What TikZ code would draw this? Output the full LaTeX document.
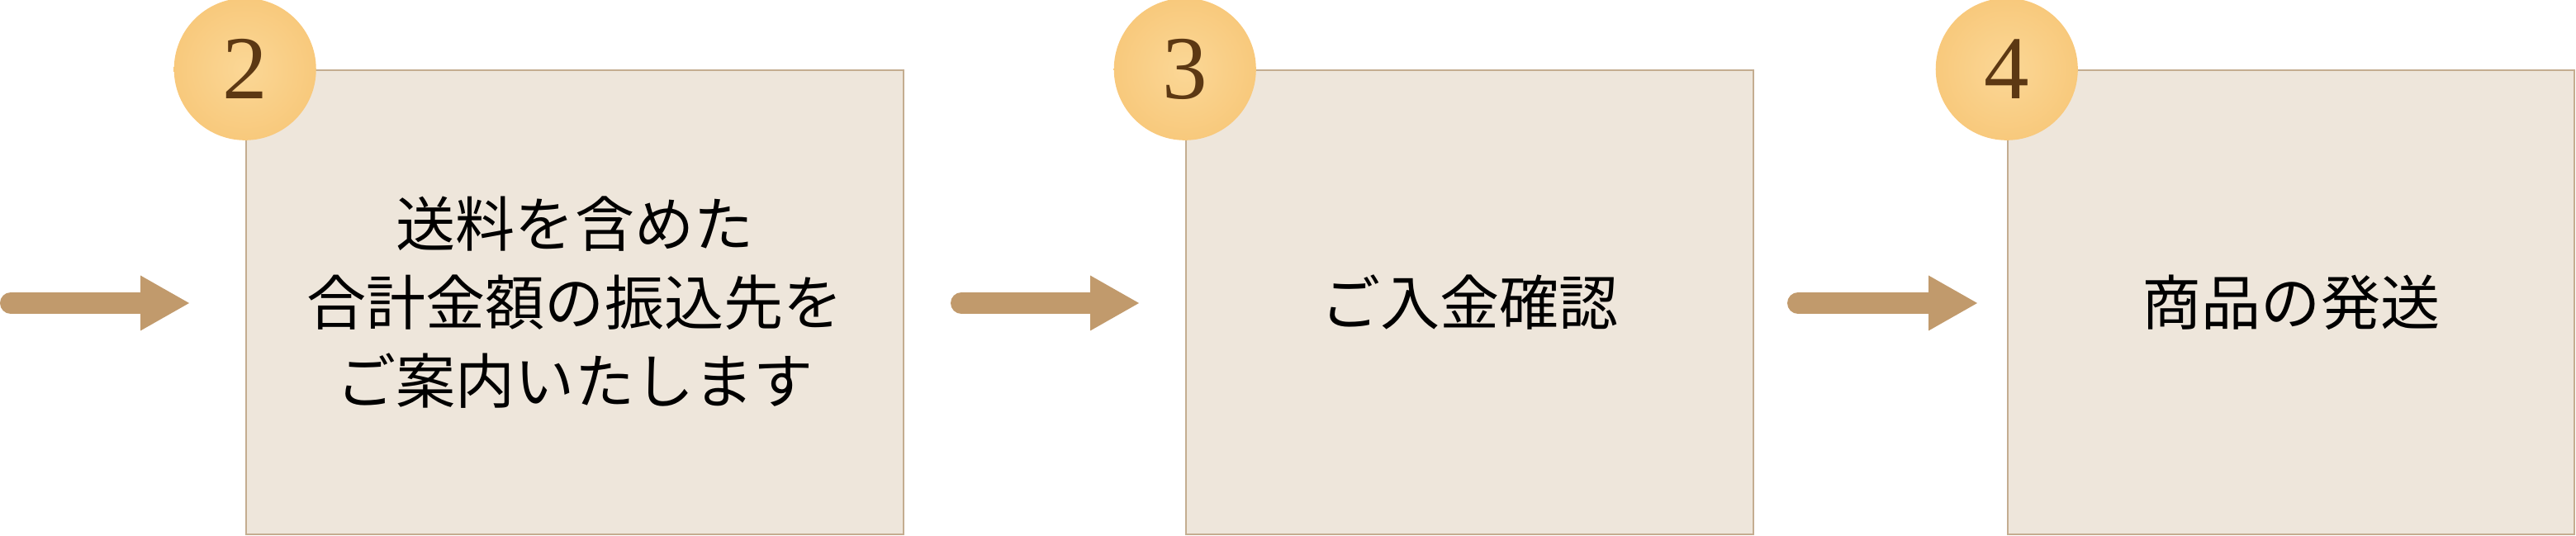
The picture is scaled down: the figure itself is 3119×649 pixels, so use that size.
\documentclass[tikz,border=0pt]{standalone}
\usepackage{fontspec}
\newfontfamily\jpfont{Noto Sans CJK JP}
\newfontfamily\digitfont{Liberation Serif}
\usepackage{tikz}

\definecolor{boxfill}{HTML}{EEE6DB}
\definecolor{boxline}{HTML}{C4AD90}
\definecolor{arrowbrown}{HTML}{C19A6C}
\definecolor{badgelight}{HTML}{FBD796}
\definecolor{badgedark}{HTML}{F8C97C}
\definecolor{digitbrown}{HTML}{5C3813}

\begin{document}
\begin{tikzpicture}[x=0.01cm, y=-0.01cm,
        stepbox/.style={draw=boxline, fill=boxfill, line width=0.6pt,
            minimum height=5.62cm, inner sep=0pt, align=center,
            font=\jpfont\fontsize{20.5}{27}\selectfont},
        badge/.style={circle, inner sep=0pt, minimum size=1.72cm,
            inner color=badgelight, outer color=badgedark, text=digitbrown,
            font=\digitfont\fontsize{31}{31}\selectfont},
        flow/.style={arrowbrown}]
        \pgfmathsetmacro{\arrowY}{367}
        \pgfmathsetmacro{\shaftW}{0.26}
        \pgfmathsetmacro{\headL}{59}
        \pgfmathsetmacro{\headH}{33.5}

        \useasboundingbox (0,0) rectangle (3119,649);

        \node[stepbox, minimum width=7.96cm] (box1) at (696,366)
            {送料を含めた\\合計金額の振込先を\\ご案内いたします};
        \node[stepbox, minimum width=6.87cm] (box2) at (1779.5,366) {ご入金確認};
        \node[stepbox, minimum width=6.86cm] (box3) at (2774,366) {商品の発送};

        \node[badge] (badge2) at (box1.north west) {2};
        \node[badge] (badge3) at (box2.north west) {3};
        \node[badge] (badge4) at (box3.north west) {4};

        \foreach \sx/\tx [count=\i] in {0/229, 1151/1379, 2164/2394} {
            \coordinate (start\i) at (\sx+13, \arrowY);
            \coordinate (head\i) at (\tx-\headL, \arrowY);
            \coordinate (tip\i) at (\tx, \arrowY);
            \draw[flow, line width=\shaftW cm, line cap=round] (start\i) -- (head\i);
            \fill[flow] (head\i) ++(0,-\headH) -- (tip\i) -- ++(-\headL,\headH) -- cycle;
        }
    \end{tikzpicture}
\end{document}
